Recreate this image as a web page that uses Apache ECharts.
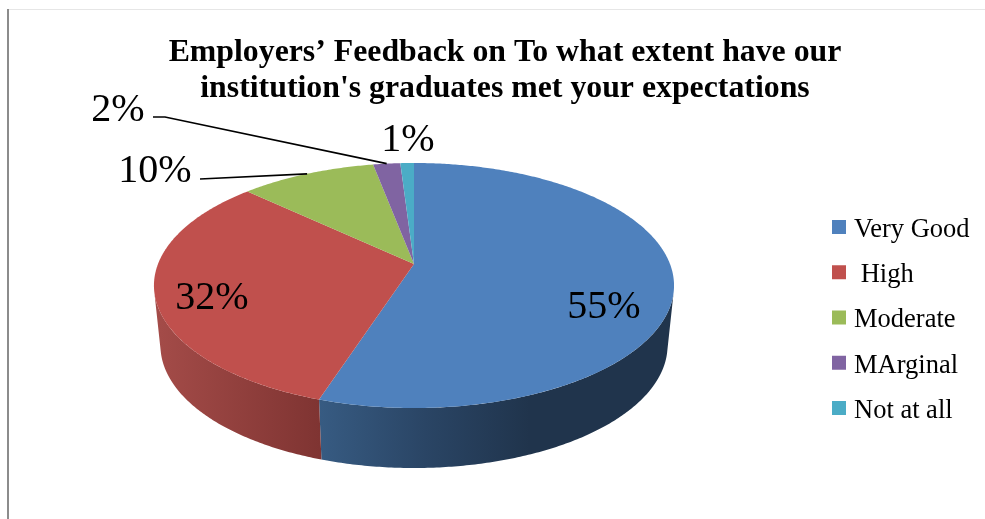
<!DOCTYPE html>
<html>
<head>
<meta charset="utf-8">
<style>html,body{margin:0;padding:0;background:#fff}#c{width:985px;height:519px}</style>
<script src="https://cdn.jsdelivr.net/npm/echarts@6/dist/echarts.min.js"></script>
</head>
<body>
<div id="c"></div>
<script>
// ---- data ----
var categories = ['Very Good', ' High', 'Moderate', 'MArginal', 'Not at all'];
var percents = [55, 32, 10, 2, 1];
var titleLines = ['Employers\u2019 Feedback on To what extent have our', "institution's graduates met your expectations"];

// ---- styles ----
var topColors = ['#4F81BD', '#C0504D', '#9BBB59', '#8064A2', '#4BACC6'];
var FONT = '"Liberation Serif","Times New Roman",serif';

// ---- layout of the tilted pie ----
var CX = 414, APEX_Y = 264, K = 256, C = 0.1755, A = -72.4, DEPTH = 60, SHRINK = 0.975;
var labelCenters = [[604, 307], [212, 298], [155, 171], [118, 110], [408, 140]];
var leaderStarts = [null, null, [[200, 179]], [[153, 117], [165, 117]], null];
var wallStops = [
  [320, 530, [[0, '#375B82'], [0.5, '#2A4565'], [1, '#20344C']]],
  [160, 320, [[0, '#A34B48'], [1, '#7F3432']]]
];

function topPoint(theta) {
  var u = Math.sin(theta), v = Math.cos(theta), d = 1 + C * v;
  return [CX + K * u / d, (A * v + APEX_Y) / d];
}
function bottomPoint(theta) {
  var p = topPoint(theta);
  return [CX + SHRINK * (p[0] - CX), p[1] + DEPTH];
}
function arc(fn, a0, a1) {
  var n = Math.max(2, Math.ceil(Math.abs(a1 - a0) / 0.01)), pts = [];
  for (var i = 0; i <= n; i++) pts.push(fn(a0 + (a1 - a0) * i / n));
  return pts;
}

var total = percents.reduce(function (a, b) { return a + b; }, 0);

function makeRender(idx) {
  return function (params, api) {
    var val = api.value(0), before = 0;
    for (var i = 0; i < idx; i++) before += percents[i];
    var a0 = before / total * 2 * Math.PI;
    var a1 = (before + val) / total * 2 * Math.PI;
    var mid = (a0 + a1) / 2;
    var children = [];

    // front wall
    var w0 = Math.max(a0, Math.PI * 0.57), w1 = Math.min(a1, Math.PI * 1.43);
    if (w1 > w0) {
      var s = wallStops[idx];
      var fill = s ? new echarts.graphic.LinearGradient(s[0], 0, s[1], 0,
        s[2].map(function (t) { return { offset: t[0], color: t[1] }; }), true) : topColors[idx];
      children.push({
        type: 'polygon', z2: 1,
        shape: { points: arc(topPoint, w0, w1).concat(arc(bottomPoint, w1, w0)) },
        style: { fill: fill }
      });
    }
    // top face
    children.push({
      type: 'polygon', z2: 2,
      shape: { points: [[CX, APEX_Y]].concat(arc(topPoint, a0, a1)) },
      style: { fill: topColors[idx] }
    });
    // leader line
    if (leaderStarts[idx]) {
      children.push({
        type: 'polyline', z2: 3,
        shape: { points: leaderStarts[idx].concat([topPoint(mid)]) },
        style: { stroke: '#000', lineWidth: 1.7, fill: 'none' }
      });
    }
    // label
    children.push({
      type: 'text', z2: 4,
      x: labelCenters[idx][0], y: labelCenters[idx][1],
      style: { text: val + '%', font: '40px ' + FONT, fill: '#000', align: 'center', verticalAlign: 'middle' }
    });
    return { type: 'group', children: children };
  };
}

var chart = echarts.init(document.getElementById('c'), null, { renderer: 'canvas' });
chart.setOption({
  animation: false,
  backgroundColor: '#fff',
  title: {
    text: titleLines.join('\n'),
    left: 500, top: 30, textAlign: 'center',
    textStyle: { fontFamily: FONT, fontWeight: 'bold', fontSize: 31.8, lineHeight: 36, color: '#000' }
  },
  legend: {
    orient: 'vertical', left: 832, top: 210.5, padding: 0,
    icon: 'rect', itemWidth: 14, itemHeight: 14, itemGap: 12.25, align: 'left',
    formatter: '{t|{name}}',
    textStyle: {
      fontFamily: FONT, fontSize: 26.5, color: '#000',
      rich: { t: { fontFamily: FONT, fontSize: 26.5, lineHeight: 30, color: '#000', padding: [6, 0, 0, 3] } }
    },
    data: categories
  },
  graphic: [
    { type: 'rect', shape: { x: 7, y: 9, width: 978, height: 1 }, style: { fill: '#E6E6E6' }, silent: true },
    { type: 'rect', shape: { x: 7, y: 9, width: 2, height: 510 }, style: { fill: '#8C8C8C' }, silent: true }
  ],
  series: categories.map(function (name, i) {
    return {
      type: 'custom', name: name, coordinateSystem: 'none',
      itemStyle: { color: topColors[i] },
      renderItem: makeRender(i),
      data: [[percents[i]]],
      silent: true
    };
  })
});
</script>
</body>
</html>
